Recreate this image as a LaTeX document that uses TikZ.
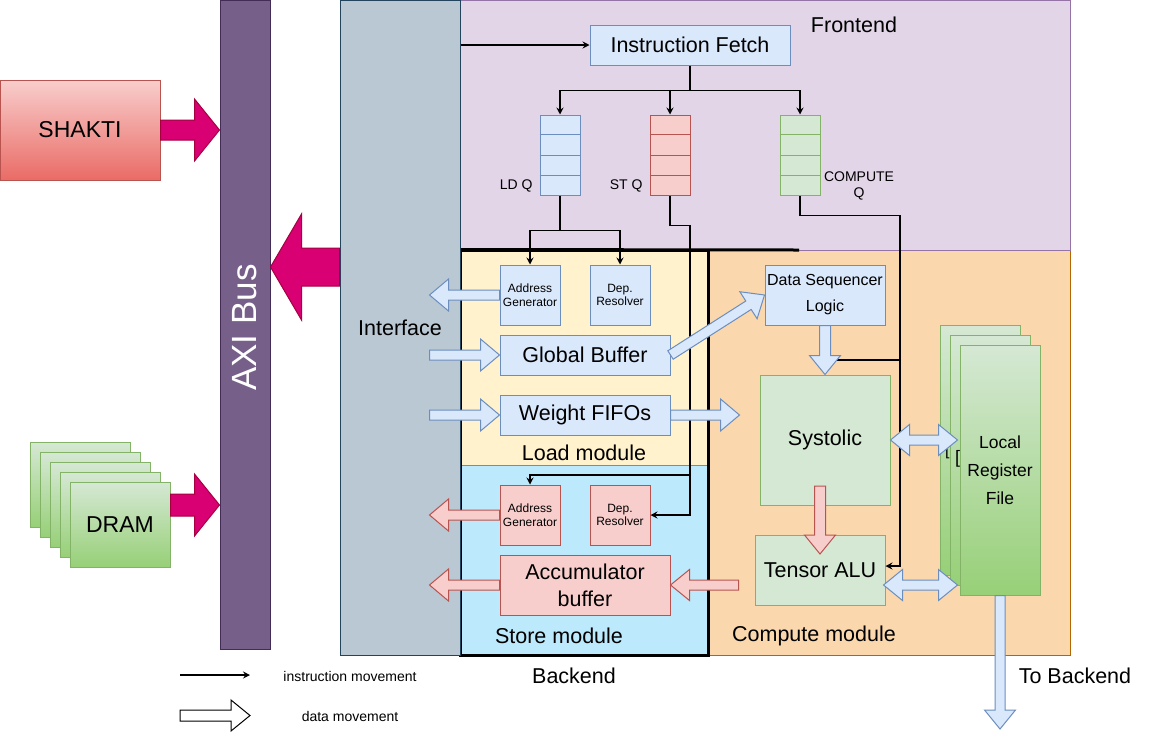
\documentclass[tikz,border=0pt]{standalone}
\usepackage{fontspec}
\setmainfont{Liberation Sans}
\usepackage{tikz}
\usetikzlibrary{arrows.meta,positioning,calc}
\definecolor{bluefill}{HTML}{DAE8FC}
\definecolor{blueline}{HTML}{6C8EBF}
\definecolor{redfill}{HTML}{F8CECC}
\definecolor{redline}{HTML}{B85450}
\definecolor{reddark}{HTML}{EA6B66}
\definecolor{greenfill}{HTML}{D5E8D4}
\definecolor{greenline}{HTML}{82B366}
\definecolor{greendark}{HTML}{97D077}
\definecolor{frontfill}{HTML}{E1D5E7}
\definecolor{frontline}{HTML}{9673A6}
\definecolor{loadfill}{HTML}{FFF2CC}
\definecolor{loadline}{HTML}{D6B656}
\definecolor{storefill}{HTML}{BDE9FC}
\definecolor{storeline}{HTML}{6C8EBF}
\definecolor{computefill}{HTML}{FAD7AC}
\definecolor{computeline}{HTML}{B46504}
\definecolor{ifacefill}{HTML}{BAC8D3}
\definecolor{ifaceline}{HTML}{23445D}
\definecolor{axifill}{HTML}{76608A}
\definecolor{axiline}{HTML}{432D57}
\definecolor{magfill}{HTML}{D80073}
\definecolor{magline}{HTML}{A50040}
\tikzstyle{box}=[draw,inner sep=0pt,align=center,line width=1pt]
\tikzstyle{bluebox}=[box,draw=blueline,fill=bluefill]
\tikzstyle{redbox}=[box,draw=redline,fill=redfill]
\tikzstyle{greenbox}=[box,draw=greenline,fill=greenfill]
\tikzstyle{stackbox}=[box,draw=greenline,top color=greenfill,bottom color=greendark]
\tikzstyle{region}=[draw,inner sep=0pt,line width=1pt]
\tikzstyle{bigtext}=[font=\fontsize{21.5}{27}\selectfont]
\tikzstyle{smalltext}=[font=\fontsize{14}{16}\selectfont,align=center]
\tikzstyle{tinytext}=[font=\fontsize{12}{13.7}\selectfont]
\tikzstyle{instr}=[line width=1.3pt,-{Stealth[length=7pt,width=7pt,inset=2.5pt]}]
\tikzstyle{wire}=[line width=1.3pt]
\tikzstyle{bluearrow}=[draw=blueline,fill=bluefill,line width=1pt]
\tikzstyle{redarrow}=[draw=redline,fill=redfill,line width=1pt]
\tikzstyle{magarrow}=[draw=magline,fill=magfill,line width=1pt]
\tikzstyle{hollowarrow}=[draw=black,fill=white,line width=1pt]
% fat arrow: style, from, to, shaft half width, head half width, head length
\newcommand{\fatarrow}[6]{%
  \coordinate (fa-c) at ($(#3)!#6!(#2)$);
  \draw[#1] ($(#2)!#4!90:(#3)$) -- ($(fa-c)!#4!-90:(#2)$) -- ($(fa-c)!#5!-90:(#2)$)
    -- (#3) -- ($(fa-c)!#5!90:(#2)$) -- ($(fa-c)!#4!90:(#2)$) -- ($(#2)!#4!-90:(#3)$) -- cycle;
}
% two headed fat arrow, same arguments
\newcommand{\dblarrow}[6]{%
  \coordinate (da-a) at ($(#2)!#6!(#3)$);
  \coordinate (da-b) at ($(#3)!#6!(#2)$);
  \draw[#1] (#2) -- ($(da-a)!#5!90:(#3)$) -- ($(da-a)!#4!90:(#3)$) -- ($(da-b)!#4!-90:(#2)$)
    -- ($(da-b)!#5!-90:(#2)$) -- (#3) -- ($(da-b)!#5!90:(#2)$) -- ($(da-b)!#4!90:(#2)$)
    -- ($(da-a)!#4!-90:(#3)$) -- ($(da-a)!#5!-90:(#3)$) -- cycle;
}

\begin{document}
\begin{tikzpicture}[x=1pt,y=-1pt]
\useasboundingbox (0,0) rectangle (1151,732);
% regions
\node[region,draw=computeline,fill=computefill,minimum width=362pt,minimum height=405pt] (compute) at (889,452.5) {};
\node[region,draw=frontline,fill=frontfill,minimum width=610pt,minimum height=250pt] (frontend) at (765,125) {};
\node[region,draw=loadline,fill=loadfill,minimum width=248pt,minimum height=215pt] (load) at (584,357.5) {};
\node[region,draw=storeline,fill=storefill,minimum width=248pt,minimum height=190pt] (store) at (584,560) {};
\coordinate (frameend) at (799,250);
\draw[line width=3pt] (load.north west) -- (frameend);
\node[draw,line width=3pt,inner sep=0pt,minimum width=248pt,minimum height=405pt] (backend) at (584,452.5) {};
\node[region,draw=ifaceline,fill=ifacefill,minimum width=120pt,minimum height=655pt,bigtext] (iface) at (400,327.5) {Interface};
\node[region,draw=axiline,fill=axifill,minimum width=50pt,minimum height=649pt] (axi) at (245,324.5) {};
\node[text=white,rotate=90,font=\fontsize{35}{40}\selectfont] (axilbl) at (245,327.5) {AXI Bus};
\node[bigtext] (frontlbl) at (854,25) {Frontend};
\node[bigtext] (loadlbl) at (584,453) {Load module};
\node[bigtext] (storelbl) at (559,636) {Store module};
\node[bigtext] (computelbl) at (814,636) {Compute module};
\node[bigtext] (backendlbl) at (574,676) {Backend};
\node[bigtext] (tobackendlbl) at (1075,676) {To Backend};

% outside
\node[box,draw=redline,top color=redfill,bottom color=reddark,minimum width=160pt,minimum height=100pt,font=\fontsize{23}{27}\selectfont] (shakti) at (80,130) {SHAKTI};
\foreach \i in {0,...,3}
  \node[stackbox,minimum width=100pt,minimum height=85pt] (dram\i) at (80+10*\i,484.5+10*\i) {};
\node[stackbox,minimum width=100pt,minimum height=85pt,font=\fontsize{23}{27}\selectfont] (dram) at (120,524.5) {DRAM};

% frontend
\node[bluebox,minimum width=200pt,minimum height=40pt,bigtext] (ifetch) at (690,45) {Instruction Fetch};
\node[bluebox,minimum width=40pt,minimum height=80pt] (ldq) at (560,155) {};
\node[redbox,minimum width=40pt,minimum height=80pt] (stq) at (670,155) {};
\node[greenbox,minimum width=40pt,minimum height=80pt] (cq) at (800,155) {};
\foreach \q/\c in {ldq/blueline,stq/redline,cq/greenline}
  \foreach \i in {1,2,3}
    \draw[\c,line width=1pt] ($(\q.north west)!\i/4!(\q.south west)$) -- ($(\q.north east)!\i/4!(\q.south east)$);
\node[smalltext,anchor=east] (ldqlbl) at (536,186) {LD Q};
\node[smalltext,anchor=east] (stqlbl) at (646,186) {ST Q};
\node[smalltext] (cqlbl) at (859,186) {COMPUTE\\Q};

% load module
\node[bluebox,minimum width=60pt,minimum height=60pt,tinytext] (ldag) at (530,295) {Address\\Generator};
\node[bluebox,minimum width=60pt,minimum height=60pt,tinytext] (lddr) at (620,295) {Dep.\\Resolver};
\node[bluebox,minimum width=170pt,minimum height=40pt,bigtext] (gbuf) at (585,355) {Global Buffer};
\node[bluebox,minimum width=170pt,minimum height=40pt,bigtext] (wfifo) at (585,415) {Weight FIFOs};

% store module
\node[redbox,minimum width=60pt,minimum height=60pt,tinytext] (stag) at (530,515) {Address\\Generator};
\node[redbox,minimum width=60pt,minimum height=60pt,tinytext] (stdr) at (620,515) {Dep.\\Resolver};
\node[redbox,minimum width=170pt,minimum height=60pt,bigtext] (acc) at (585,585) {Accumulator\\buffer};

% compute module
\node[bluebox,minimum width=120pt,minimum height=60pt,font=\fontsize{16}{26}\selectfont] (dsl) at (825,295) {Data Sequencer\\Logic};
\node[greenbox,minimum width=130pt,minimum height=130pt,bigtext] (sys) at (825,440) {Systolic};
\node[greenbox,minimum width=130pt,minimum height=70pt,bigtext] (talu) at (820,570) {Tensor ALU};
\node[stackbox,minimum width=80pt,minimum height=250pt] (reg0) at (980,450) {};
\node[font=\fontsize{16}{18}\selectfont,anchor=west,inner sep=0pt] (regmark0) at (945,451) {[};
\node[stackbox,minimum width=80pt,minimum height=250pt] (reg1) at (990,460) {};
\node[font=\fontsize{18}{20}\selectfont,anchor=west,inner sep=0pt] (regmark1) at (955,459) {[};
\node[stackbox,minimum width=80pt,minimum height=250pt,font=\fontsize{17.5}{28}\selectfont] (reg) at (1000,470) {Local\\Register\\File};

% instruction movement
\draw[instr] (iface.east |- ifetch.west) -- (ifetch.west);
\draw[instr] (ifetch.south) -- ++(0,25) -| (ldq.north);
\draw[instr] (ifetch.south) -- ++(0,25) -| (stq.north);
\draw[instr] (ifetch.south) -- ++(0,25) -| (cq.north);
\draw[instr] (ldq.south) -- ++(0,35) -| (ldag.north);
\draw[instr] (ldq.south) -- ++(0,35) -| (lddr.north);
\draw[instr] (stq.south) -- ++(0,30) -- ++(20,0) |- (stdr.east);
\coordinate (sttap) at (690,475);
\draw[instr] (sttap) -| (stag.north);
\draw[instr] (cq.south) -- ++(0,20) -- ++(100,0) |- ([yshift=4pt]talu.east);
\coordinate (cqtap) at (900,360);
\draw[wire] (cqtap) -- (dsl.south |- cqtap);

% data movement
\coordinate (ldagout) at ([xshift=-70pt]ldag.west);
\coordinate (gbufin) at ([xshift=-70pt]gbuf.west);
\coordinate (wfifoin) at ([xshift=-70pt]wfifo.west);
\coordinate (wfifoout) at ([xshift=69pt]wfifo.east);
\coordinate (stagout) at ([xshift=-70pt]stag.west);
\coordinate (accout) at ([xshift=-70pt]acc.west);
\coordinate (sysout) at (820,486);
\coordinate (aluin) at (820,554);
\coordinate (aluout) at ([xshift=-16pt]talu.west |- acc.east);
\coordinate (sysreg) at ([xshift=-2pt]reg.west |- sys.east);
\coordinate (aluport) at ([yshift=-15pt,xshift=-2pt]talu.east);
\coordinate (alureg) at ([xshift=-2pt]reg.west |- aluport);
\coordinate (tobackend) at (reg.south |- 0,729);
\fatarrow{bluearrow}{ldag.west}{ldagout}{5pt}{16pt}{19pt}
\fatarrow{bluearrow}{gbufin}{gbuf.west}{5pt}{16pt}{19pt}
\fatarrow{bluearrow}{wfifoin}{wfifo.west}{5pt}{16pt}{19pt}
\fatarrow{bluearrow}{gbuf.east}{dsl.west}{5pt}{16pt}{19pt}
\fatarrow{bluearrow}{wfifo.east}{wfifoout}{5pt}{16pt}{19pt}
\fatarrow{bluearrow}{dsl.south}{sys.north}{5.5pt}{15.5pt}{19pt}
\dblarrow{bluearrow}{sys.east}{sysreg}{5pt}{15.5pt}{19pt}
\dblarrow{bluearrow}{aluport}{alureg}{5pt}{15.5pt}{19pt}
\fatarrow{bluearrow}{reg.south}{tobackend}{5pt}{15.5pt}{19pt}
\fatarrow{redarrow}{sysout}{aluin}{5.5pt}{15.5pt}{19pt}
\fatarrow{redarrow}{aluout}{acc.east}{5pt}{15.5pt}{19pt}
\fatarrow{redarrow}{stag.west}{stagout}{5pt}{16pt}{19pt}
\fatarrow{redarrow}{acc.west}{accout}{5pt}{16pt}{19pt}

% bus traffic
\coordinate (shaktiin) at (axi.west |- shakti.east);
\coordinate (ifaceport) at (iface.west |- 0,267);
\coordinate (axiport) at (axi.east |- ifaceport);
\coordinate (dramout) at ([yshift=19.5pt]dram.east);
\coordinate (dramin) at (axi.west |- dramout);
\fatarrow{magarrow}{shakti.east}{shaktiin}{10pt}{31pt}{25pt}
\fatarrow{magarrow}{ifaceport}{axiport}{19pt}{53pt}{31pt}
\fatarrow{magarrow}{dramout}{dramin}{11pt}{31pt}{25pt}

% legend
\coordinate (lgia) at (180,675);
\coordinate (lgib) at (250,675);
\coordinate (lgda) at (180,715.5);
\coordinate (lgdb) at (250,715.5);
\draw[instr] (lgia) -- (lgib);
\fatarrow{hollowarrow}{lgda}{lgdb}{5.5pt}{15.5pt}{19pt}
\node[smalltext] (lgilbl) at (350,676) {instruction movement};
\node[smalltext] (lgdlbl) at (350,716) {data movement};
\end{tikzpicture}
\end{document}
